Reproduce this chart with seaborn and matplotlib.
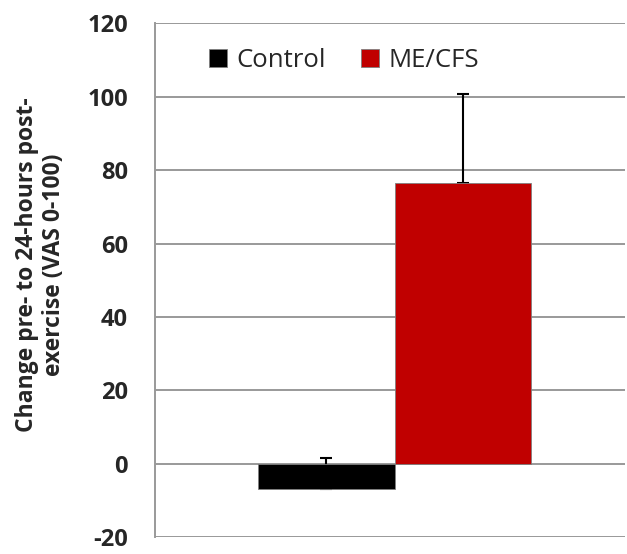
import matplotlib
matplotlib.use("Agg")
import matplotlib.pyplot as plt
import seaborn as sns
import pandas as pd
import numpy as np

# Group means and upper error (SD) of VAS change
groups = ["Control", "ME/CFS"]
means = [-6.8, 76.5]
errors = [8.4, 24.2]
colors = ["#000000", "#C00000"]
yticks = [-20, 0, 20, 40, 60, 80, 100, 120]
ylabel = "Change pre- to 24-hours post-\nexercise (VAS 0-100)"

sns.set_style("white")
plt.rcParams["font.family"] = ["Open Sans", "DejaVu Sans"]

df = pd.DataFrame({"x": ["all"] * len(groups), "group": groups, "value": means})

fig = plt.figure(figsize=(6.27, 5.54), dpi=100)
ax = fig.add_axes([0.247, 0.03, 0.75, 0.928])

sns.barplot(data=df, x="x", y="value", hue="group", palette=colors,
            hue_order=groups, errorbar=None, width=0.8, saturation=1, ax=ax,
            edgecolor="#808080", linewidth=0.6, zorder=3)

# one-sided (upward) error bars at the bar centres
for patch, m, e in zip(ax.patches[:len(groups)], means, errors):
    cx = patch.get_x() + patch.get_width() / 2
    ax.errorbar(cx, m, yerr=[[0], [e]], fmt="none", ecolor="black",
                elinewidth=1.5, capsize=4, capthick=1.5, zorder=2)

ax.set_ylim(-20, 120)
ax.set_yticks(yticks)
ax.set_yticklabels([str(t) for t in yticks], fontsize=17, fontweight="bold")
ax.set_xlim(-0.702, 0.675)
ax.set_xticks([])
ax.set_xlabel("")
ax.set_ylabel(ylabel, fontsize=16.5, fontweight="bold", linespacing=1.15)
ax.yaxis.set_label_coords(-0.243, 0.53)
ax.yaxis.label.set_va("center")

ax.grid(axis="y", color="#999999", linewidth=1.4, zorder=0)
ax.set_axisbelow(True)
for s in ["top", "right", "bottom"]:
    ax.spines[s].set_visible(False)
ax.spines["left"].set_color("#999999")
ax.spines["left"].set_linewidth(1.4)
ax.tick_params(axis="y", direction="out", length=6.5, width=1.4, color="#999999", pad=13)

leg = ax.legend(loc="upper left", bbox_to_anchor=(0.066, 0.997), ncol=2, frameon=False,
                fontsize=18.5, handlelength=0.7, handleheight=0.7, handletextpad=0.35,
                columnspacing=1.4)

fig.savefig("out.png", dpi=100)
